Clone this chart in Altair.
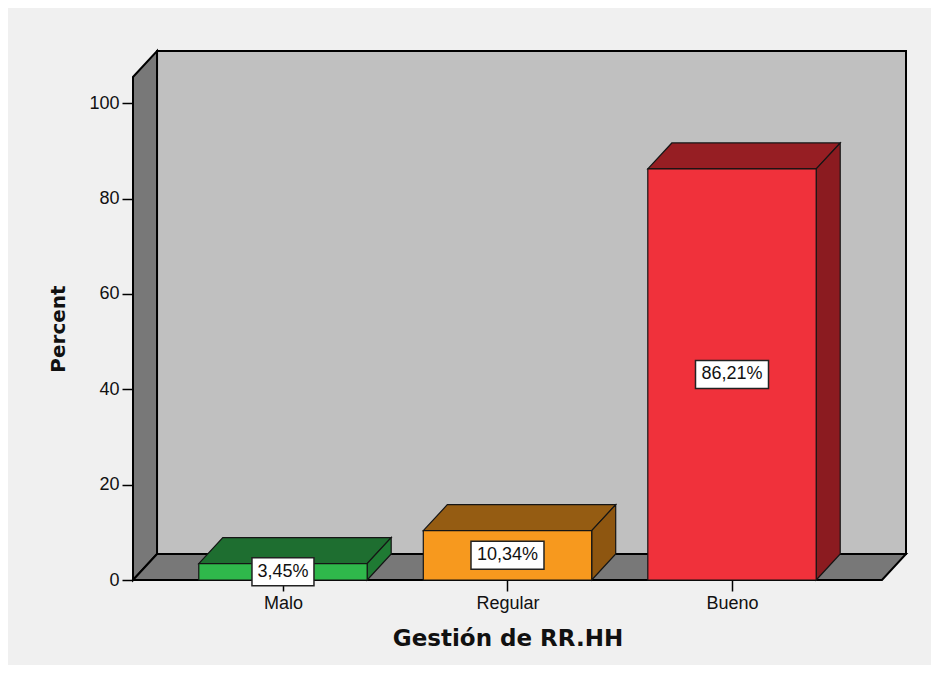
import altair as alt
import pandas as pd

# ---- data ----
categories = ["Malo", "Regular", "Bueno"]
percents = [3.45, 10.34, 86.21]
labels = ["3,45%", "10,34%", "86,21%"]
front_colors = ["#2fb84b", "#f7991e", "#f0313b"]
top_colors = ["#1e6e30", "#955c12", "#961e23"]
side_colors = ["#1f7a33", "#8e5610", "#8b1b20"]
y_ticks = [0, 20, 40, 60, 80, 100]

# ---- 3D style constants (in data units) ----
PAD = 0.668        # space between wall and first/last bar centre
BAR_W = 0.75       # bar width (category units)
DX = 0.107         # depth offset along x
DY = 5.45          # depth offset along y (percent units)
Y_TOP = 105.5      # top of front wall edge

n = len(categories)
x_left = -PAD
x_right = (n - 1) + PAD
X_DOMAIN = [x_left, x_right + DX]
Y_DOMAIN = [0, Y_TOP + DY]

xs = alt.Scale(domain=X_DOMAIN, nice=False, zero=False)
ys = alt.Scale(domain=Y_DOMAIN, nice=False, zero=False)

FONT = "Liberation Sans"
TFONT = "DejaVu Sans"

# back wall
back = pd.DataFrame([{"x": x_left + DX, "x2": x_right + DX, "y": DY, "y2": Y_TOP + DY}])
# left wall + floor polygons (as areas)
walls = pd.DataFrame([
    {"face": "left", "x": x_left, "y": 0, "y2": Y_TOP},
    {"face": "left", "x": x_left + DX, "y": DY, "y2": Y_TOP + DY},
    {"face": "floor", "x": x_left, "y": 0, "y2": 0},
    {"face": "floor", "x": x_left + DX, "y": 0, "y2": DY},
    {"face": "floor", "x": x_right, "y": 0, "y2": DY},
    {"face": "floor", "x": x_right + DX, "y": DY, "y2": DY},
])

# bar faces
front_rows, face_rows, lab_rows = [], [], []
for i, (c, v) in enumerate(zip(categories, percents)):
    x0 = i - BAR_W / 2
    x1 = i + BAR_W / 2
    front_rows.append({"x": x0, "x2": x1, "y": 0, "y2": v, "color": front_colors[i]})
    f = f"top{i}"
    face_rows += [
        {"face": f, "x": x0, "y": v, "y2": v, "color": top_colors[i]},
        {"face": f, "x": x0 + DX, "y": v, "y2": v + DY, "color": top_colors[i]},
        {"face": f, "x": x1, "y": v, "y2": v + DY, "color": top_colors[i]},
        {"face": f, "x": x1 + DX, "y": v + DY, "y2": v + DY, "color": top_colors[i]},
    ]
    s = f"side{i}"
    face_rows += [
        {"face": s, "x": x1, "y": 0, "y2": v, "color": side_colors[i]},
        {"face": s, "x": x1 + DX, "y": DY, "y2": v + DY, "color": side_colors[i]},
    ]
    lab_rows.append({"x": i, "y": v / 2, "label": labels[i]})

front = pd.DataFrame(front_rows)
faces = pd.DataFrame(face_rows)
labs = pd.DataFrame(lab_rows)

label_expr = "[" + ",".join(f"'{c}'" for c in categories) + "][datum.value]"

x_axis = alt.Axis(
    values=list(range(n)), labelExpr=label_expr, grid=False, domain=False,
    tickSize=11, tickColor="black", tickWidth=1.5, labelFontSize=18, labelFont=FONT,
    labelColor="#111111", labelPadding=3,
    title="Gestión de RR.HH", titleFont=TFONT, titleFontSize=23, titleFontWeight="bold",
    titleColor="#111111", titlePadding=15, titleX=374.5, titleAlign="center",
)
y_axis = alt.Axis(
    values=y_ticks, grid=False, domain=False, tickSize=11, tickColor="black", tickWidth=1.5,
    labelFontSize=18, labelFont=FONT, labelColor="#111111", labelPadding=3,
    title="Percent", titleFont=TFONT, titleFontSize=20, titleFontWeight="bold",
    titleColor="#111111", titlePadding=20, titleY=277.5,
)

back_layer = alt.Chart(back).mark_rect(fill="#c0c0c0", stroke="black", strokeWidth=2).encode(
    x=alt.X("x:Q", scale=xs, axis=x_axis), x2="x2:Q",
    y=alt.Y("y:Q", scale=ys, axis=y_axis), y2="y2:Q",
)
walls_layer = alt.Chart(walls).mark_area(fill="#787878", stroke="black", strokeWidth=2, opacity=1).encode(
    x=alt.X("x:Q", scale=xs), y=alt.Y("y:Q", scale=ys), y2="y2:Q", detail="face:N",
)
faces_layer = alt.Chart(faces).mark_area(stroke="#151515", strokeWidth=1.2, opacity=1).encode(
    x=alt.X("x:Q", scale=xs), y=alt.Y("y:Q", scale=ys), y2="y2:Q", detail="face:N",
    color=alt.Color("color:N", scale=None),
)
front_layer = alt.Chart(front).mark_rect(stroke="#151515", strokeWidth=1.2).encode(
    x=alt.X("x:Q", scale=xs), x2="x2:Q", y=alt.Y("y:Q", scale=ys), y2="y2:Q",
    fill=alt.Fill("color:N", scale=None),
)

layers = [back_layer, walls_layer, faces_layer, front_layer]
for i, lab in enumerate(labels):
    w = 11 * len(lab) + 7
    box = alt.Chart(labs.iloc[[i]]).mark_rect(
        width=w, height=28, fill="white", stroke="#222222", strokeWidth=1.5
    ).encode(x=alt.X("x:Q", scale=xs), y=alt.Y("y:Q", scale=ys))
    layers.append(box)

text_layer = alt.Chart(labs).mark_text(
    font=FONT, fontSize=18, color="#111111", align="center", baseline="middle"
).encode(x=alt.X("x:Q", scale=xs), y=alt.Y("y:Q", scale=ys), text="label:N")
layers.append(text_layer)

chart = alt.layer(*layers).properties(
    width=773, height=529,
    autosize=alt.AutoSizeParams(type="none"),
    padding={"left": 125, "top": 43, "right": 25, "bottom": 85},
    background="#f0f0f0",
).configure_view(stroke=None)

chart.save("out.html", embed_options={"renderer": "svg", "actions": False})
